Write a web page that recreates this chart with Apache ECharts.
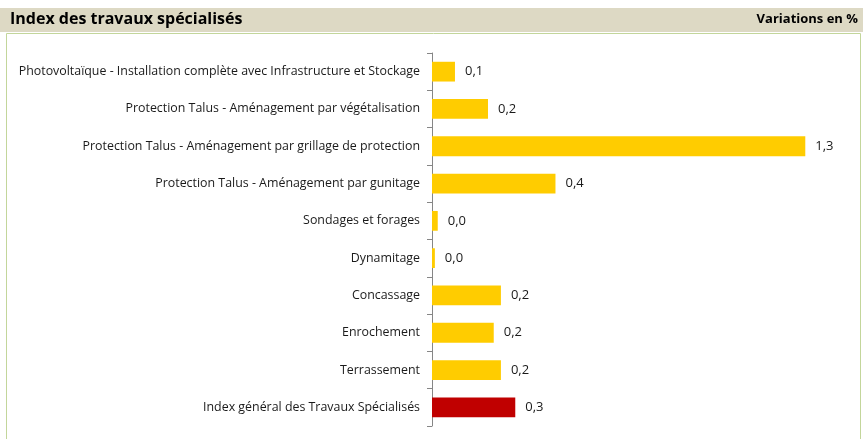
<!DOCTYPE html>
<html><head><meta charset="utf-8">
<script src="https://cdn.jsdelivr.net/npm/echarts@6/dist/echarts.min.js"></script>
<style>html,body{margin:0;padding:0;background:#fff}#c{width:863px;height:439px}</style>
</head><body><div id="c"></div>
<script>
const categories = [
  "Photovoltaïque - Installation complète avec Infrastructure et Stockage",
  "Protection Talus - Aménagement par végétalisation",
  "Protection Talus - Aménagement par grillage de protection",
  "Protection Talus - Aménagement par gunitage",
  "Sondages et forages",
  "Dynamitage",
  "Concassage",
  "Enrochement",
  "Terrassement",
  "Index général des Travaux Spécialisés"
];
const values = [0.08, 0.195, 1.30, 0.43, 0.02, 0.01, 0.24, 0.215, 0.24, 0.29];
const highlightIndex = 9;
const titleText = "Index des travaux spécialisés";
const unitText = "Variations en %";

const font = "'Open Sans', 'Noto Sans', sans-serif";
const chart = echarts.init(document.getElementById('c'), null, {renderer: 'canvas'});
chart.setOption({
  animation: false,
  graphic: [
    {type: 'rect', shape: {x: 0, y: 8, width: 863, height: 24}, style: {fill: '#ddd9c4'}, z: 0},
    {type: 'rect', shape: {x: 6.5, y: 33.5, width: 854, height: 410}, style: {fill: '#fff', stroke: '#c3d69b', lineWidth: 1}, z: 0},
    {type: 'text', left: 10, top: 11, style: {text: titleText, font: "bold 16px " + font, fill: '#000'}, z: 5},
    {type: 'text', right: 5, top: 13, style: {text: unitText, font: "bold 13px " + font, fill: '#000'}, z: 5}
  ],
  grid: {left: 432, right: 29, top: 53, bottom: 13, containLabel: false},
  xAxis: {type: 'value', min: 0, max: 1.4, show: false},
  yAxis: {
    type: 'category', data: categories, inverse: true,
    axisLine: {show: true, lineStyle: {color: '#868686', width: 1}},
    axisTick: {show: true, inside: false, length: 5, lineStyle: {color: '#868686', width: 1}},
    axisLabel: {color: '#1a1a1a', fontFamily: font, fontSize: 12.4, margin: 12, padding: [2, 0, 0, 0]}
  },
  series: [{
    type: 'bar', barCategoryGap: '47%',
    data: values.map((v, i) => ({value: v, itemStyle: {color: i === highlightIndex ? '#c00000' : '#ffcc00'}})),
    label: {show: true, position: 'right', distance: 10, color: '#1a1a1a', fontFamily: font, fontSize: 13,
      formatter: p => p.value.toFixed(1).replace('.', ',')}
  }]
});
</script></body></html>
